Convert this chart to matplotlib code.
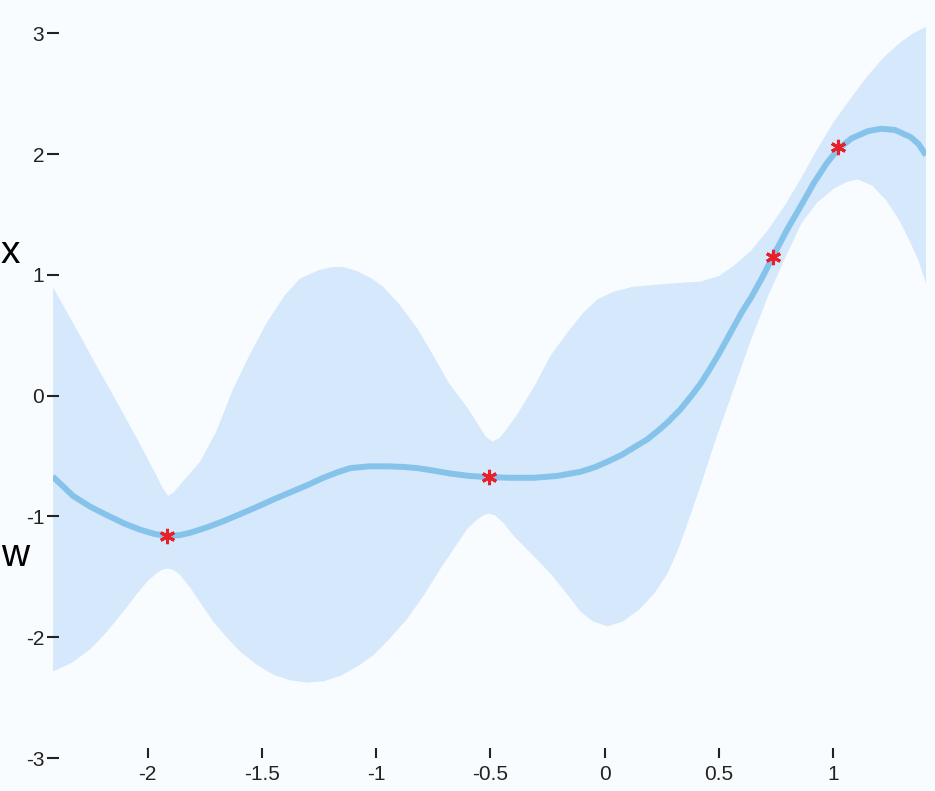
import matplotlib
matplotlib.use("Agg")
import matplotlib.pyplot as plt
import numpy as np

# ---- data ----
obs_x = [-1.914, -0.504, 0.736, 1.021]
obs_y = [-1.159, -0.675, 1.151, 2.061]

mean_x = [-2.415, -2.37, -2.326, -2.25, -2.177, -2.10, -2.032, -1.97, -1.914, -1.86,
          -1.813, -1.74, -1.669, -1.60, -1.520, -1.45, -1.375, -1.30, -1.231, -1.17,
          -1.113, -1.03, -0.95, -0.88, -0.819, -0.75, -0.675, -0.59, -0.504, -0.41,
          -0.311, -0.21, -0.105, -0.04, 0.02, 0.075, 0.127, 0.188, 0.24, 0.276,
          0.333, 0.38, 0.420, 0.46, 0.495, 0.53, 0.565, 0.60, 0.640, 0.69,
          0.736, 0.80, 0.859, 0.915, 0.97, 1.021, 1.08, 1.152, 1.209, 1.27,
          1.340, 1.375, 1.406]
mean_y = [-0.67, -0.75, -0.83, -0.92, -0.99, -1.06, -1.11, -1.145, -1.16, -1.155,
          -1.135, -1.09, -1.04, -0.985, -0.92, -0.86, -0.80, -0.74, -0.68, -0.635,
          -0.60, -0.585, -0.585, -0.59, -0.60, -0.62, -0.645, -0.665, -0.675, -0.68,
          -0.68, -0.665, -0.63, -0.59, -0.54, -0.49, -0.43, -0.36, -0.28, -0.22,
          -0.11, 0.0, 0.10, 0.22, 0.33, 0.45, 0.57, 0.69, 0.81, 0.98,
          1.151, 1.38, 1.573, 1.76, 1.92, 2.04, 2.13, 2.19, 2.21, 2.20,
          2.14, 2.08, 1.99]

upper_x = [-2.415, -2.355, -2.295, -2.23, -2.164, -2.10, -2.032, -1.967, -1.935, -1.910,
           -1.885, -1.85, -1.813, -1.770, -1.70, -1.625, -1.55, -1.476, -1.40, -1.332,
           -1.25, -1.19, -1.143, -1.08, -1.02, -0.968, -0.90, -0.819, -0.749, -0.68,
           -0.600, -0.55, -0.52, -0.491, -0.46, -0.43, -0.381, -0.31, -0.237, -0.16,
           -0.092, -0.03, 0.039, 0.12, 0.201, 0.30, 0.420, 0.50, 0.565, 0.64,
           0.714, 0.79, 0.859, 0.93, 1.003, 1.08, 1.152, 1.22, 1.297, 1.35, 1.406]
upper_y = [0.902, 0.70, 0.497, 0.27, 0.05, -0.17, -0.406, -0.64, -0.76, -0.83,
           -0.80, -0.72, -0.64, -0.546, -0.30, 0.058, 0.35, 0.613, 0.83, 0.97,
           1.04, 1.065, 1.065, 1.03, 0.97, 0.90, 0.76, 0.555, 0.33, 0.10,
           -0.10, -0.25, -0.34, -0.38, -0.35, -0.28, -0.15, 0.07, 0.33, 0.53,
           0.69, 0.80, 0.86, 0.90, 0.915, 0.93, 0.945, 0.99, 1.076, 1.20,
           1.37, 1.58, 1.80, 2.04, 2.268, 2.47, 2.65, 2.80, 2.93, 3.00, 3.055]

lower_x = [-2.415, -2.33, -2.251, -2.18, -2.107, -2.05, -2.002, -1.96, -1.935, -1.914,
           -1.89, -1.86, -1.813, -1.76, -1.713, -1.65, -1.594, -1.52, -1.450, -1.38,
           -1.301, -1.23, -1.156, -1.08, -1.012, -0.94, -0.863, -0.79, -0.718, -0.65,
           -0.600, -0.56, -0.53, -0.508, -0.48, -0.44, -0.399, -0.32, -0.237, -0.17,
           -0.105, -0.05, 0.013, 0.08, 0.158, 0.22, 0.276, 0.32, 0.355, 0.420,
           0.49, 0.565, 0.64, 0.714, 0.79, 0.859, 0.93, 1.003, 1.06, 1.108,
           1.17, 1.231, 1.29, 1.340, 1.375, 1.406]
lower_y = [-2.285, -2.21, -2.10, -1.96, -1.79, -1.65, -1.54, -1.47, -1.44, -1.432,
           -1.44, -1.48, -1.59, -1.74, -1.87, -2.01, -2.12, -2.23, -2.31, -2.355,
           -2.376, -2.365, -2.32, -2.24, -2.15, -2.01, -1.846, -1.65, -1.432, -1.24,
           -1.10, -1.03, -0.99, -0.977, -0.99, -1.06, -1.159, -1.31, -1.473, -1.63,
           -1.79, -1.87, -1.91, -1.87, -1.76, -1.63, -1.47, -1.28, -1.10, -0.745,
           -0.34, 0.058, 0.46, 0.82, 1.14, 1.42, 1.60, 1.714, 1.77, 1.79,
           1.74, 1.62, 1.45, 1.258, 1.11, 0.927]

x_ticks = [-2, -1.5, -1, -0.5, 0, 0.5, 1]
x_ticklabels = ["-2", "-1.5", "-1", "-0.5", "0", "0.5", "1"]
y_ticks = [-3, -2, -1, 0, 1, 2, 3]
y_ticklabels = ["-3", "-2", "-1", "0", "1", "2", "3"]

# ---- styling ----
bg = "#f8fcfe"
band_col = "#d6e8fb"
mean_col = "#86c3ea"
star_col = "#e8202a"
tick_font = ["Liberation Sans", "DejaVu Sans"]

W, H = 935, 791
fig = plt.figure(figsize=(W / 100, H / 100), dpi=100, facecolor=bg)
left_px, right_px, bottom_px, top_px = 52.7, 926.0, 758.0, 0.0
ax = fig.add_axes([left_px / W, (H - bottom_px) / H,
                   (right_px - left_px) / W, (bottom_px - top_px) / H])
ax.set_facecolor(bg)

band_x = np.concatenate([upper_x, lower_x[::-1]])
band_y = np.concatenate([upper_y, lower_y[::-1]])
ax.fill(band_x, band_y, color=band_col, lw=0, zorder=1)
ax.plot(mean_x, mean_y, color=mean_col, lw=4.3, solid_capstyle="butt",
        solid_joinstyle="round", zorder=2)
ax.plot(obs_x, obs_y, linestyle="none", marker=(6, 2, 0), ms=11, mew=2.2,
        color=star_col, zorder=3)

ax.set_xlim(-2.415, 1.406)
ax.set_ylim(-3, 3.276)
for s in ax.spines.values():
    s.set_visible(False)

ax.set_xticks(x_ticks)
ax.set_xticklabels(x_ticklabels, family=tick_font, fontsize=15, color="#222222")
ax.set_yticks(y_ticks)
ax.set_yticklabels(y_ticklabels, family=tick_font, fontsize=15, color="#222222")
ax.tick_params(axis="x", direction="in", length=7, width=1.5, pad=5, colors="#222222")
ax.tick_params(axis="y", direction="inout", length=8, width=1.5, pad=2, colors="#222222")

fig.text(1 / W, 1 - 253 / H, "x", fontsize=28, family=["Liberation Sans", "DejaVu Sans"],
         ha="left", va="center", color="black")
fig.text(1 / W, 1 - 556 / H, "w", fontsize=28, family=["Liberation Sans", "DejaVu Sans"],
         ha="left", va="center", color="black")

fig.savefig("out.png", dpi=100, facecolor=bg)
